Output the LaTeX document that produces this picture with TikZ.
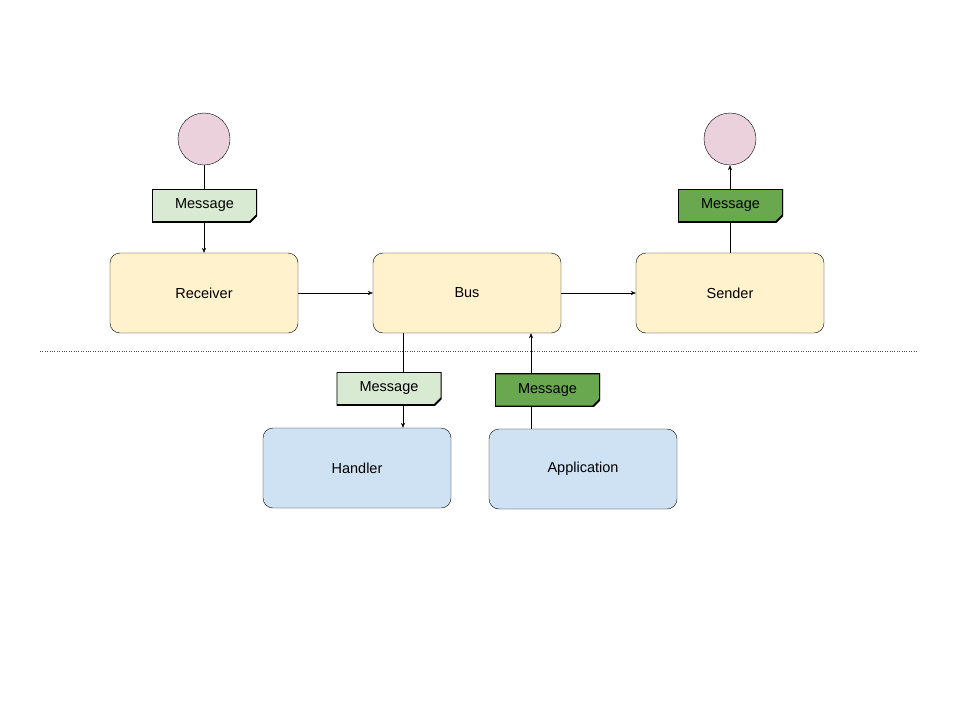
\documentclass[tikz,border=0pt]{standalone}
\usepackage{fontspec}
\setmainfont{Liberation Sans}
\usetikzlibrary{arrows.meta}
\definecolor{noteLight}{HTML}{D9EAD3}
\definecolor{noteDark}{HTML}{6AA84F}
\definecolor{boxYellow}{HTML}{FFF2CC}
\definecolor{boxBlue}{HTML}{CFE2F3}
\definecolor{endPink}{HTML}{EAD1DC}
\tikzset{
  box/.style={draw,rounded corners=10pt,minimum width=188pt,minimum height=80pt,font=\fontsize{14.5}{17}\selectfont},
  yellowbox/.style={box,fill=boxYellow},
  bluebox/.style={box,fill=boxBlue},
  endpoint/.style={draw,circle,fill=endPink,minimum size=52pt,inner sep=0pt},
  note/.style={minimum width=105pt,minimum height=33pt,inner sep=0pt,font=\fontsize{14.5}{17}\selectfont,
    path picture={
      \draw [line width=1.8pt,fill=#1]
      (path picture bounding box.north west) -- (path picture bounding box.north east)
      -- ([yshift=7pt]path picture bounding box.south east) -- ([xshift=-7pt]path picture bounding box.south east)
      -- (path picture bounding box.south west) -- cycle;
    }},
  flow/.style={-{Stealth[length=5pt,width=4pt]}}
}
\begin{document}
\begin{tikzpicture}[x=1pt,y=-1pt]
  \useasboundingbox (0,0) rectangle (960,720);

  \node (inCircle) [endpoint] at (204,139) {};
  \node (outCircle) [endpoint] at (730,139) {};

  \node (receiver) [yellowbox] at (204,293) {Receiver};
  \node (bus) [yellowbox] at (467,293) {Bus};
  \node (sender) [yellowbox] at (730,293) {Sender};
  \node (handler) [bluebox] at (357,468) {Handler};
  \node (application) [bluebox] at (583,469) {Application};

  \coordinate (lineL) at (40,351);
  \coordinate (lineR) at (918,351);
  \draw [dotted,black!70] (lineL) -- (lineR);

  \draw [flow] (inCircle) -- (receiver);
  \draw [flow] (receiver) -- (bus);
  \draw [flow] (bus) -- (sender);
  \draw [flow] (sender) -- (outCircle);
  \draw [flow] (bus.south -| 403,0) -- (handler.north -| 403,0);
  \draw [flow] (application.north -| 531,0) -- (bus.south -| 531,0);

  \node (inMsg) [note=noteLight] at (204.5,205.5) {Message};
  \node (outMsg) [note=noteDark] at (730.5,205.5) {Message};
  \node (handlerMsg) [note=noteLight] at (389,388.5) {Message};
  \node (appMsg) [note=noteDark] at (547.5,390) {Message};
\end{tikzpicture}
\end{document}
